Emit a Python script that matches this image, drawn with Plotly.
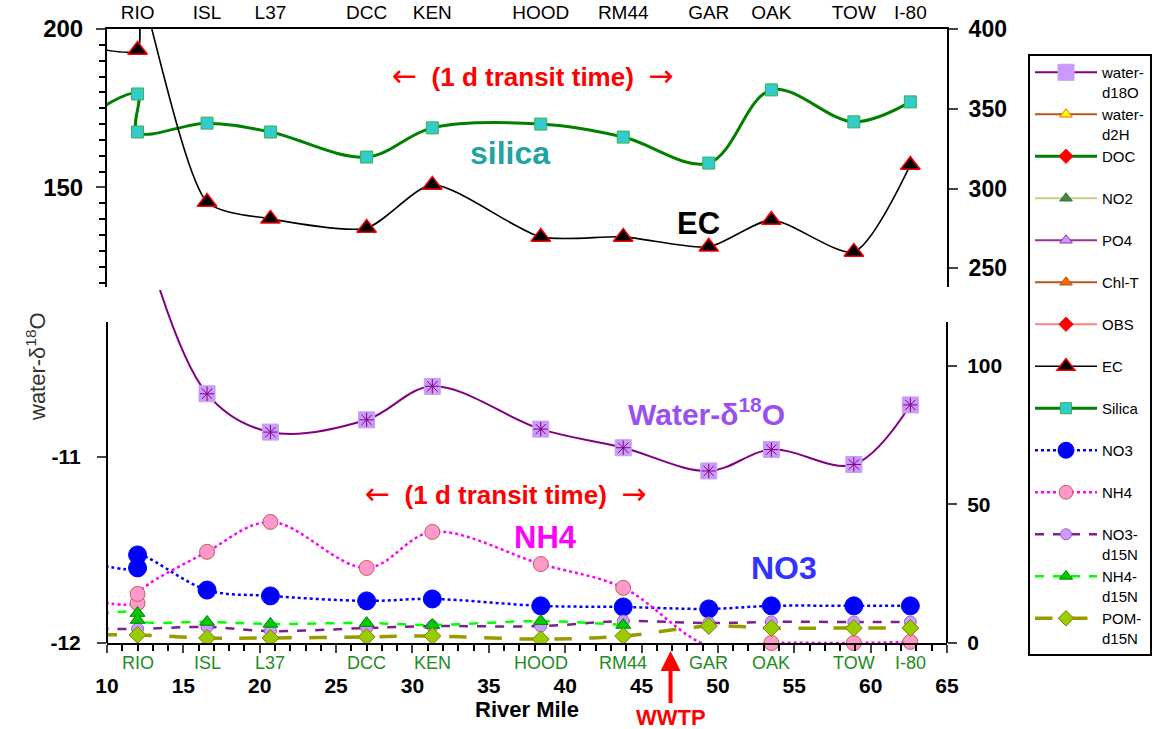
import plotly.graph_objects as go

# ---------------- data ----------------
sites = ["RIO", "ISL", "L37", "DCC", "KEN", "HOOD", "RM44", "GAR", "OAK", "TOW", "I-80"]
site_mile = [12.0, 16.55, 20.7, 27.0, 31.3, 38.4, 43.8, 49.4, 53.5, 58.9, 62.6]
WWTP_MILE = 46.9

# upper panel: silica (left axis) and EC (right axis); two samples at RIO plus an upstream value
silica_mile = [9.5, 12.0, 12.0, 16.55, 20.7, 27.0, 31.3, 38.4, 43.8, 49.4, 53.5, 58.9, 62.6]
silica = [174.8, 179.5, 167.5, 170.3, 167.5, 159.6, 168.8, 170.0, 165.9, 157.7, 180.8, 170.7, 177.0]

ec_mile = [9.5, 12.0, 12.0, 16.55, 20.7, 27.0, 31.3, 38.4, 43.8, 49.4, 53.5, 58.9, 62.6]
ec = [387.5, 386.8, 430.0, 291.6, 281.0, 275.3, 302.3, 269.7, 269.7, 263.5, 280.3, 260.3, 314.8]

# lower panel: water-d18O (left axis)
d18o_mile = [12.0, 16.55, 20.7, 27.0, 31.3, 38.4, 43.8, 49.4, 53.5, 58.9, 62.6]
d18o = [-9.7, -10.66, -10.866, -10.80, -10.62, -10.85, -10.95, -11.075, -10.96, -11.04, -10.72]

# lower panel: nutrients and d15N (right axis)
no3_mile = [9.5, 12.0, 12.0, 16.55, 20.7, 27.0, 31.3, 38.4, 43.8, 49.4, 53.5, 58.9, 62.6]
no3 = [28.2, 27.1, 31.8, 19.1, 17.0, 15.2, 15.9, 13.4, 13.0, 12.3, 13.4, 13.4, 13.4]

nh4_mile = [9.5, 12.0, 12.0, 16.55, 20.7, 27.0, 31.3, 38.4, 43.8, 49.4, 53.5, 58.9, 62.6]
nh4 = [14.8, 14.4, 17.7, 32.9, 43.7, 27.1, 40.1, 28.5, 19.9, -1.0, 0.0, 0.0, 0.4]

no3_d15n_mile = [9.5, 12.0, 16.55, 20.7, 27.0, 31.3, 38.4, 43.8, 49.4, 53.5, 58.9, 62.6]
no3_d15n = [5.1, 5.1, 5.8, 4.3, 5.4, 6.1, 6.1, 7.9, 7.2, 7.6, 7.6, 7.6]

nh4_d15n_mile = [9.5, 12.0, 12.0, 16.55, 20.7, 27.0, 31.3, 38.4, 43.8]
nh4_d15n = [10.5, 10.8, 8.3, 7.6, 6.9, 7.2, 6.5, 7.9, 6.5]

pom_d15n_mile = [9.5, 12.0, 16.55, 20.7, 27.0, 31.3, 38.4, 43.8, 49.4, 53.5, 58.9, 62.6]
pom_d15n = [2.9, 2.9, 1.8, 1.8, 2.2, 2.5, 1.4, 2.5, 6.1, 5.4, 5.4, 5.4]

# ---------------- geometry helpers ----------------
W, H = 1167, 729
ML, MR, MT, MB = 107, 220, 29, 86
PLOT_W = W - ML - MR
PLOT_H = H - MT - MB
XR = [10, 65]


def px(p):
    return (p - ML) / PLOT_W


def py(p):
    return (H - MB - p) / PLOT_H


FONT = "Liberation Sans, Arial, sans-serif"

fig = go.Figure()


def add(name, x, y, xa, ya, line, marker, mode="lines+markers", shape="spline",
        smoothing=1.0, showlegend=True, clip=True):
    marker = dict(marker, opacity=1)
    # upstream values (left of the axis) carry the line only, no marker
    if x and x[0] is not None:
        marker["size"] = [0 if m < XR[0] else marker["size"] for m in x]
    fig.add_trace(go.Scatter(
        x=x, y=y, name=name, xaxis=xa, yaxis=ya, mode=mode,
        line=dict(shape=shape, smoothing=smoothing, **line), marker=marker,
        showlegend=showlegend, legendgroup=name,
        cliponaxis=clip, hoverinfo="skip"))


def two(label):
    # every legend entry takes two text lines so entries are evenly spaced
    return label if "<br>" in label else label + "<br>\u00a0"


# legend order follows the trace order
add("water-<br>d18O", d18o_mile, d18o, "x", "y3",
    dict(color="#800080", width=2),
    dict(symbol="square", size=16, color="#CC99FF", line=dict(color="#C3A0F0", width=1)))
add("d18O-star", d18o_mile, d18o, "x", "y3",
    dict(color="rgba(0,0,0,0)", width=0),
    dict(symbol="asterisk-open", size=12, color="#800080", line=dict(color="#800080", width=1)),
    mode="markers", showlegend=False)
add("water-<br>d2H", [None], [None], "x", "y4",
    dict(color="#B5541E", width=2),
    dict(symbol="triangle-up", size=11, color="#FFFF00", line=dict(color="#FF6600", width=1)))
add(two("DOC"), [None], [None], "x", "y4",
    dict(color="#008000", width=3),
    dict(symbol="diamond", size=11, color="#FF0000", line=dict(color="#FF0000", width=1)))
add(two("NO2"), [None], [None], "x", "y4",
    dict(color="#CCCC88", width=2),
    dict(symbol="triangle-up", size=11, color="#6B7B23", line=dict(color="#008080", width=1)))
add(two("PO4"), [None], [None], "x", "y4",
    dict(color="#993399", width=2),
    dict(symbol="triangle-up", size=11, color="#CC99FF", line=dict(color="#993399", width=1)))
add(two("Chl-T"), [None], [None], "x", "y4",
    dict(color="#B5541E", width=2),
    dict(symbol="triangle-up", size=11, color="#FF6600", line=dict(color="#B5541E", width=1)))
add(two("OBS"), [None], [None], "x", "y4",
    dict(color="#FF8080", width=2),
    dict(symbol="diamond", size=11, color="#FF0000", line=dict(color="#FF0000", width=1)))
add(two("EC"), ec_mile, ec, "x2", "y2",
    dict(color="black", width=1.6),
    dict(symbol="triangle-up", size=17, color="black", line=dict(color="#FF0000", width=1.5)),
    smoothing=0.7)
add(two("Silica"), silica_mile, silica, "x2", "y",
    dict(color="#008000", width=3),
    dict(symbol="square", size=12, color="#33CCCC", line=dict(color="#3CB04A", width=1)))
add(two("NO3"), no3_mile, no3, "x", "y4",
    dict(color="#0000FF", width=2.5, dash="dot"),
    dict(symbol="circle", size=18, color="#0000FF", line=dict(color="#0000FF", width=1)))
add(two("NH4"), nh4_mile, nh4, "x", "y4",
    dict(color="#FF00FF", width=2.5, dash="dot"),
    dict(symbol="circle", size=15, color="#FF99CC", line=dict(color="#C0605A", width=1)),
    clip=False)
add("NO3-<br>d15N", no3_d15n_mile, no3_d15n, "x", "y4",
    dict(color="#7F1F8F", width=2.5, dash="dash"),
    dict(symbol="circle", size=12, color="#CC99FF", line=dict(color="#9966CC", width=1)))
add("NH4-<br>d15N", nh4_d15n_mile, nh4_d15n, "x", "y4",
    dict(color="#00FF00", width=2.5, dash="dash"),
    dict(symbol="triangle-up", size=13, color="#00CC00", line=dict(color="#008000", width=1)))
add("POM-<br>d15N", pom_d15n_mile, pom_d15n, "x", "y4",
    dict(color="#999900", width=3.5, dash="longdash"),
    dict(symbol="diamond", size=13, color="#99CC00", line=dict(color="#808000", width=1)))

# ---------------- axes ----------------
TOP_DOM = [py(287), 1.0]
BOT_DOM = [0.0, py(290)]
bold = dict(family=FONT, color="black", weight="bold")

layout = dict(
    width=W, height=H,
    margin=dict(l=ML, r=MR, t=MT, b=MB, pad=0, autoexpand=False),
    paper_bgcolor="white", plot_bgcolor="white",
    font=dict(family=FONT, color="black"),
    xaxis=dict(domain=[0, 1], range=XR, anchor="y3", showline=True, linecolor="black",
               linewidth=2, ticks="outside", ticklen=8, tickwidth=2, tick0=10, dtick=5,
               minor=dict(dtick=1, ticks="outside", ticklen=6, tickwidth=1.5, tickcolor="black"),
               tickfont=dict(size=21, **bold), ticklabelstandoff=15, showgrid=False, zeroline=False,
               automargin=False,
               title=dict(text="River Mile", font=dict(size=22, **bold), standoff=5)),
    xaxis2=dict(domain=[0, 1], range=XR, anchor="y", side="top", showline=True,
                linecolor="black", linewidth=2, ticks="", tickvals=site_mile, ticktext=sites,
                tickfont=dict(family=FONT, size=19, color="black"), showgrid=False, zeroline=False,
                automargin=False),
    yaxis=dict(domain=TOP_DOM, range=[118.6, 200], anchor="x2", showline=True, linecolor="black",
               linewidth=2, tickvals=[150, 200], ticks="outside", ticklen=9, tickwidth=2,
               minor=dict(dtick=5, ticks="outside", ticklen=6, tickwidth=1.5, tickcolor="black"),
               tickfont=dict(size=24, **bold), ticklabelstandoff=8, showgrid=False, zeroline=False,
               automargin=False),
    yaxis2=dict(overlaying="y", side="right", anchor="x2", range=[238.3, 400], showline=True,
                linecolor="black", linewidth=2, tickvals=[250, 300, 350, 400], ticks="outside",
                ticklen=9, tickwidth=2, tickfont=dict(size=23, **bold), ticklabelstandoff=6,
                showgrid=False, zeroline=False, automargin=False),
    yaxis3=dict(domain=BOT_DOM, range=[-12, -10.102], anchor="x", showline=False,
                tickvals=[-12, -11], ticktext=["-12", "-11"], ticks="outside", ticklen=9,
                tickwidth=2, tickfont=dict(size=21, **bold), ticklabelstandoff=12,
                showgrid=False, zeroline=False, automargin=False),
    yaxis4=dict(overlaying="y3", side="right", anchor="x", range=[0, 127.4], showline=False,
                tickvals=[0, 50, 100], ticks="outside", ticklen=9, tickwidth=2,
                tickfont=dict(size=21, **bold), ticklabelstandoff=6, showgrid=False,
                zeroline=False, automargin=False),
    legend=dict(x=px(1028), xanchor="left", y=py(54), yanchor="top", bgcolor="white",
                bordercolor="black", borderwidth=2, itemwidth=62, tracegroupgap=0,
                valign="top", font=dict(family=FONT, size=15, color="black")),
    showlegend=True,
)

# lower-panel vertical axis lines (they start below the upper panel)
axis_line = dict(type="line", xref="paper", yref="paper", line=dict(color="black", width=2))
layout["shapes"] = [
    dict(x0=0, x1=0, y0=0, y1=py(322), **axis_line),
    dict(x0=1, x1=1, y0=0, y1=py(322), **axis_line),
]

ann = []
arrow_css = "font-weight:normal;font-family:DejaVu Sans;font-size:30px"
transit = (f"<span style='{arrow_css}'>\u2190</span>  (1 d transit time)  "
           f"<span style='{arrow_css}'>\u2192</span>")
for cx, cy in [(532, 75), (505, 493)]:
    ann.append(dict(text=transit, x=px(cx), y=py(cy), xref="paper", yref="paper",
                    xanchor="center", yanchor="middle", showarrow=False,
                    font=dict(size=26, color="#FF0000", family=FONT, weight="bold")))
labels = [
    ("silica", 510, 153, "#1FA3A3", 32),
    ("EC", 698, 223, "black", 31),
    ("Water-\u03b4<sup>18</sup>O", 706, 412, "#9B4FF0", 30),
    ("NH4", 545, 537, "#FF00FF", 31),
    ("NO3", 784, 568, "#3333FF", 32),
]
for t, cx, cy, col, sz in labels:
    ann.append(dict(text=t, x=px(cx), y=py(cy), xref="paper", yref="paper", showarrow=False,
                    xanchor="center", yanchor="middle",
                    font=dict(size=sz, color=col, family=FONT, weight="bold")))

# site names under the river-mile axis
for name, mile in zip(sites, site_mile):
    ann.append(dict(text=name, x=mile, y=py(663), xref="x", yref="paper", showarrow=False,
                    xanchor="center", yanchor="middle",
                    font=dict(size=18, color="#228B22", family=FONT)))

# y-axis title of the lower panel
ann.append(dict(text="water-\u03b4<sup>18</sup>O", x=px(36), y=py(367), xref="paper", yref="paper",
                xanchor="center", yanchor="middle", textangle=-90, showarrow=False,
                font=dict(size=22, color="#333333", family=FONT)))

# WWTP outfall marker
ann.append(dict(text="WWTP", x=WWTP_MILE, y=py(651), xref="x", yref="paper", showarrow=True,
                arrowhead=2, arrowsize=1, arrowwidth=4, arrowcolor="#FF0000", ax=0, ay=66,
                font=dict(size=22, color="#FF0000", family=FONT, weight="bold")))
layout["annotations"] = ann

fig.update_layout(**layout)
fig.write_html("out.html")
